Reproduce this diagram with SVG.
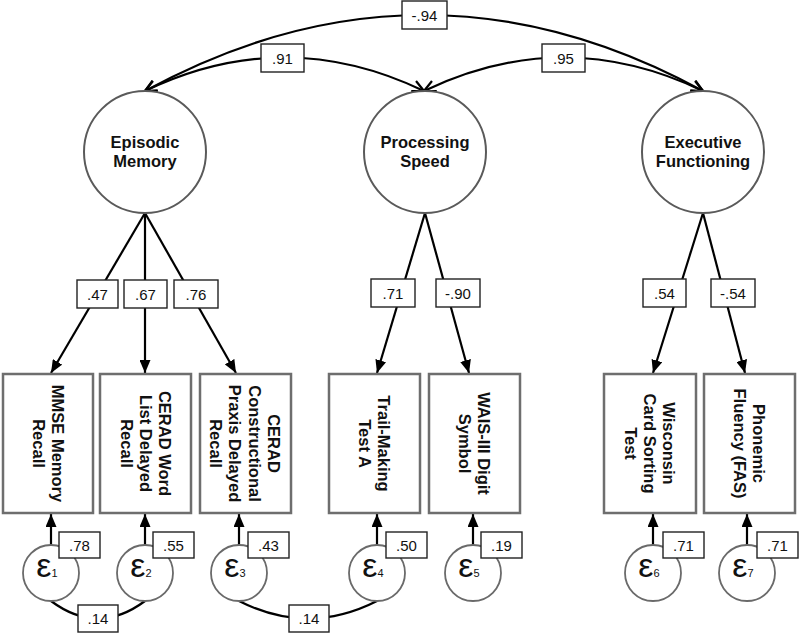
<svg xmlns="http://www.w3.org/2000/svg" width="800" height="634" viewBox="0 0 800 634">
<style>
.lat{fill:#fff;stroke:#5a5a5a;stroke-width:2}
.obs{fill:#fff;stroke:#6e6e6e;stroke-width:2.5}
.err{fill:#fff;stroke:#6a6a6a;stroke-width:1.8}
.t{font-family:"Liberation Sans",Arial,sans-serif;font-weight:bold;font-size:16.5px;fill:#111;text-anchor:middle}
.lb{fill:#fff;stroke:#222;stroke-width:1.4}
.lt{font-family:"Liberation Sans",Arial,sans-serif;font-size:15px;fill:#111;text-anchor:middle}
.eps{font-family:"Liberation Sans",Arial,sans-serif;font-size:34px;fill:#111;text-anchor:middle}
.sub{font-size:11px}
.cov{fill:none;stroke:#000;stroke-width:2.2;marker-start:url(#open);marker-end:url(#open)}
.ld{fill:none;stroke:#000;stroke-width:2.2;marker-end:url(#solid)}
.bc{fill:none;stroke:#000;stroke-width:2.2}
</style>
<defs>
<marker id="open" viewBox="0 0 14 14" refX="13" refY="7" markerWidth="14" markerHeight="14" orient="auto-start-reverse" markerUnits="userSpaceOnUse">
<path d="M1.5,1.5 L13,7 L1.5,12.5" fill="none" stroke="#000" stroke-width="2.2"/>
</marker>
<marker id="solid" viewBox="0 0 13 11" refX="13" refY="5.5" markerWidth="13" markerHeight="11" orient="auto" markerUnits="userSpaceOnUse">
<path d="M0,0 L13,5.5 L0,11 Z" fill="#000"/>
</marker>
</defs>

<g id="connectors">
<path class="cov" d="M145,91 Q424,-61 703,91"/>
<path class="cov" d="M145,91 Q284.5,24 424,91"/>
<path class="cov" d="M424,91 Q563.5,24 703,91"/>
<path class="ld" d="M145,213 L51,373"/>
<path class="ld" d="M145,213 L145,373"/>
<path class="ld" d="M145,213 L236,373"/>
<path class="ld" d="M425,213 L377,373"/>
<path class="ld" d="M425,213 L469,373"/>
<path class="ld" d="M703,213 L653,373"/>
<path class="ld" d="M703,213 L745,373"/>
<path class="ld" d="M51,545 L51,514"/>
<path class="ld" d="M145,545 L145,514"/>
<path class="ld" d="M239,545 L239,514"/>
<path class="ld" d="M377,545 L377,514"/>
<path class="ld" d="M473,545 L473,514"/>
<path class="ld" d="M653,545 L653,514"/>
<path class="ld" d="M747,545 L747,514"/>
<path class="bc" d="M51,601 Q98,636 145,601"/>
<path class="bc" d="M239,601 Q308,636 377,601"/>
<g id="edge-labels">
<rect class="lb" x="402" y="1" width="45" height="28"/><text class="lt" x="424.5" y="20.5">-.94</text>
<rect class="lb" x="261" y="44" width="43" height="28"/><text class="lt" x="282.5" y="63.5">.91</text>
<rect class="lb" x="542" y="44" width="43" height="28"/><text class="lt" x="563.5" y="63.5">.95</text>
<rect class="lb" x="77" y="280" width="41" height="28"/><text class="lt" x="97.5" y="299.5">.47</text>
<rect class="lb" x="124" y="280" width="43" height="28"/><text class="lt" x="145.5" y="299.5">.67</text>
<rect class="lb" x="174" y="280" width="44" height="28"/><text class="lt" x="196" y="299.5">.76</text>
<rect class="lb" x="371" y="279" width="44" height="28"/><text class="lt" x="393" y="298.5">.71</text>
<rect class="lb" x="436" y="279" width="44" height="28"/><text class="lt" x="458" y="298.5">-.90</text>
<rect class="lb" x="643" y="279" width="43" height="28"/><text class="lt" x="664.5" y="298.5">.54</text>
<rect class="lb" x="711" y="279" width="44" height="28"/><text class="lt" x="733" y="298.5">-.54</text>
<rect class="lb" x="78" y="605" width="40" height="27"/><text class="lt" x="98" y="624">.14</text>
<rect class="lb" x="289" y="605" width="40" height="27"/><text class="lt" x="309" y="624">.14</text>
</g>
</g>

<g id="episodic-memory">
<circle class="lat" cx="145" cy="152" r="61"/>
<text class="t" x="145" y="148">Episodic<tspan x="145" y="167">Memory</tspan></text>
</g>
<g id="processing-speed">
<circle class="lat" cx="425" cy="152" r="61"/>
<text class="t" x="425" y="148">Processing<tspan x="425" y="167">Speed</tspan></text>
</g>
<g id="executive-functioning">
<circle class="lat" cx="703" cy="152" r="61"/>
<text class="t" x="703" y="148">Executive<tspan x="703" y="167">Functioning</tspan></text>
</g>

<g id="mmse">
<rect class="obs" x="3" y="374" width="90" height="139"/>
<text class="t" transform="translate(48,443.5) rotate(90)"><tspan x="0" y="-3.6">MMSE Memory</tspan><tspan x="0" y="15.4">Recall</tspan></text>
</g>
<g id="cerad-word">
<rect class="obs" x="100" y="374" width="91" height="139"/>
<text class="t" transform="translate(145.5,443.5) rotate(90)"><tspan x="0" y="-13.1">CERAD Word</tspan><tspan x="0" y="5.9">List Delayed</tspan><tspan x="0" y="24.9">Recall</tspan></text>
</g>
<g id="cerad-praxis">
<rect class="obs" x="200" y="374" width="91" height="139"/>
<text class="t" transform="translate(245,443.5) rotate(90)"><tspan x="0" y="-22.8">CERAD</tspan><tspan x="0" y="-3.6">Constructional</tspan><tspan x="0" y="15.6">Praxis Delayed</tspan><tspan x="0" y="34.8">Recall</tspan></text>
</g>
<g id="trail-making">
<rect class="obs" x="329" y="374" width="91" height="139"/>
<text class="t" transform="translate(374.5,443.5) rotate(90)"><tspan x="0" y="-3.6">Trail-Making</tspan><tspan x="0" y="15.4">Test A</tspan></text>
</g>
<g id="wais-digit">
<rect class="obs" x="429" y="374" width="91" height="139"/>
<text class="t" transform="translate(474.5,443.5) rotate(90)"><tspan x="0" y="-3.6">WAIS-III Digit</tspan><tspan x="0" y="15.4">Symbol</tspan></text>
</g>
<g id="wisconsin">
<rect class="obs" x="604" y="374" width="92" height="139"/>
<text class="t" transform="translate(650,443.5) rotate(90)"><tspan x="0" y="-13.1">Wisconsin</tspan><tspan x="0" y="5.9">Card Sorting</tspan><tspan x="0" y="24.9">Test</tspan></text>
</g>
<g id="phonemic">
<rect class="obs" x="704" y="374" width="91" height="139"/>
<text class="t" transform="translate(749.5,443.5) rotate(90)"><tspan x="0" y="-3.6">Phonemic</tspan><tspan x="0" y="15.4">Fluency (FAS)</tspan></text>
</g>

<g id="e1"><circle class="err" cx="51" cy="573" r="28"/><text class="eps" x="47" y="577">ε<tspan class="sub">1</tspan></text><rect class="lb" x="59" y="532" width="41" height="26"/><text class="lt" x="79.5" y="550.5">.78</text></g>
<g id="e2"><circle class="err" cx="145" cy="573" r="28"/><text class="eps" x="141" y="577">ε<tspan class="sub">2</tspan></text><rect class="lb" x="153" y="532" width="41" height="26"/><text class="lt" x="173.5" y="550.5">.55</text></g>
<g id="e3"><circle class="err" cx="239" cy="573" r="28"/><text class="eps" x="235" y="577">ε<tspan class="sub">3</tspan></text><rect class="lb" x="248" y="532" width="41" height="26"/><text class="lt" x="268.5" y="550.5">.43</text></g>
<g id="e4"><circle class="err" cx="377" cy="573" r="28"/><text class="eps" x="373" y="577">ε<tspan class="sub">4</tspan></text><rect class="lb" x="386" y="532" width="41" height="26"/><text class="lt" x="406.5" y="550.5">.50</text></g>
<g id="e5"><circle class="err" cx="473" cy="573" r="28"/><text class="eps" x="469" y="577">ε<tspan class="sub">5</tspan></text><rect class="lb" x="481" y="532" width="41" height="26"/><text class="lt" x="501.5" y="550.5">.19</text></g>
<g id="e6"><circle class="err" cx="653" cy="573" r="28"/><text class="eps" x="649" y="577">ε<tspan class="sub">6</tspan></text><rect class="lb" x="663" y="532" width="41" height="26"/><text class="lt" x="683.5" y="550.5">.71</text></g>
<g id="e7"><circle class="err" cx="747" cy="573" r="28"/><text class="eps" x="743" y="577">ε<tspan class="sub">7</tspan></text><rect class="lb" x="757" y="532" width="41" height="26"/><text class="lt" x="777.5" y="550.5">.71</text></g>
</svg>
